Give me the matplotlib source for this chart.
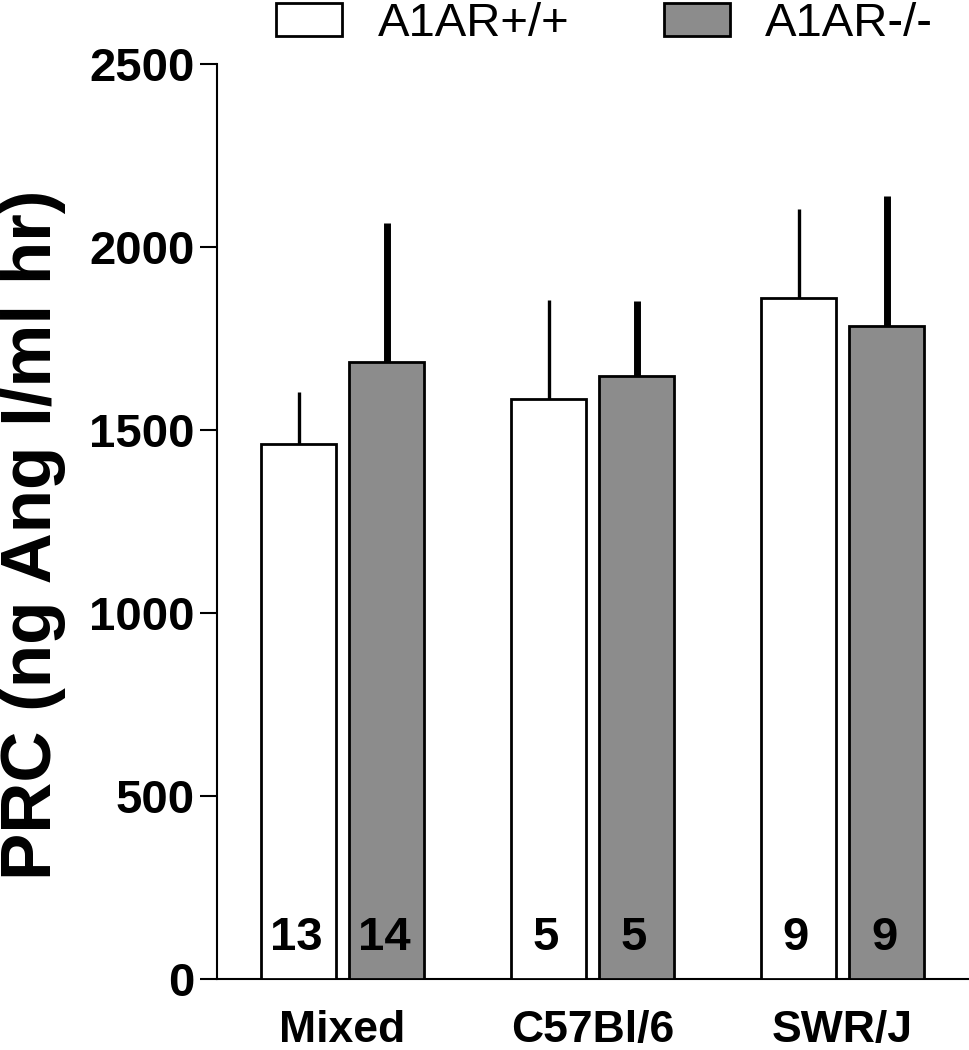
import numpy as np
import matplotlib
matplotlib.use("Agg")
from matplotlib import pyplot as plt
from matplotlib.patches import Patch

plt.rcParams['font.family'] = ['Liberation Sans', 'DejaVu Sans']

groups = ['Mixed', 'C57Bl/6', 'SWR/J']
wt_mean = [1461, 1584, 1862]
wt_sem = [144, 271, 241]
ko_mean = [1685, 1648, 1784]
ko_sem = [380, 205, 355]
wt_n = ['13', '5', '9']
ko_n = ['14', '5', '9']
series_names = ['A1AR+/+', 'A1AR-/-']

fig = plt.figure(figsize=(9.7, 10.5), dpi=100)
ax = fig.add_axes([217 / 970, 71 / 1050, 753 / 970, 915 / 1050])

x = np.arange(len(groups))
off = 0.176
w = 0.3
gray = '#8c8c8c'

ax.bar(x - off, wt_mean, w, color='white', edgecolor='black', linewidth=2, zorder=3)
ax.bar(x + off, ko_mean, w, color=gray, edgecolor='black', linewidth=2, zorder=3)
ax.errorbar(x - off, wt_mean, yerr=[np.zeros(3), wt_sem], fmt='none', ecolor='black',
            elinewidth=2.4, capsize=0, zorder=2)
ax.errorbar(x + off, ko_mean, yerr=[np.zeros(3), ko_sem], fmt='none', ecolor='black',
            elinewidth=5, capsize=0, zorder=2)

# n per group, written inside the bars
for i in range(len(groups)):
    ax.text(x[i] - off - 0.01, 79, wt_n[i], ha='center', va='baseline', fontsize=34,
            fontweight='bold', zorder=4)
    ax.text(x[i] + off - 0.01, 79, ko_n[i], ha='center', va='baseline', fontsize=34,
            fontweight='bold', zorder=4)

ax.set_xlim(-0.502, 2.51)
ax.set_ylim(0, 2500)
ax.set_yticks([0, 500, 1000, 1500, 2000, 2500])
ax.set_xticks(x)
ax.set_xticklabels(groups, fontsize=32, fontweight='bold')
ax.tick_params(axis='x', length=0, pad=22)
ax.tick_params(axis='y', length=12, width=1.5, pad=4, labelsize=34)
for lab in ax.get_yticklabels():
    lab.set_fontweight('bold')

for s in ['top', 'right']:
    ax.spines[s].set_visible(False)
for s in ['left', 'bottom']:
    ax.spines[s].set_linewidth(1.5)

ax.set_ylabel('PRC (ng Ang I/ml hr)', fontsize=51, fontweight='bold')
ax.yaxis.set_label_coords(-0.201, 0.485)

handles = [Patch(facecolor='white', edgecolor='black', linewidth=2),
           Patch(facecolor=gray, edgecolor='black', linewidth=2)]
fig.legend(handles, series_names, loc='upper left', bbox_to_anchor=(274 / 970, 1.0),
           ncol=2, frameon=False, fontsize=34, handlelength=1.4, handleheight=0.7,
           handletextpad=0.74, columnspacing=2.0, borderpad=0.05, borderaxespad=0)

fig.savefig('out.png', dpi=100)
